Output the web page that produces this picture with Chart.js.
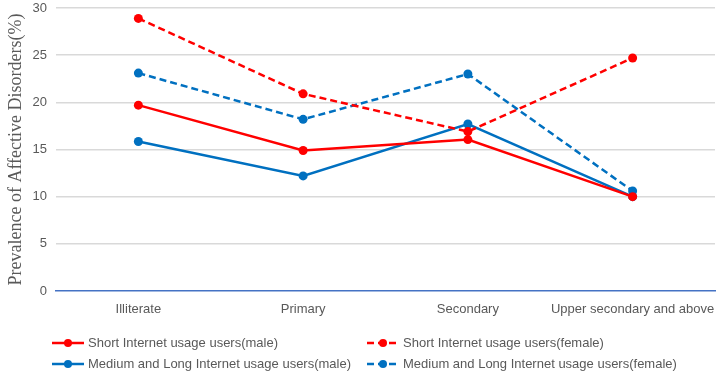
<!DOCTYPE html>
<html>
<head>
<meta charset="utf-8">
<script src="https://cdn.jsdelivr.net/npm/chart.js@4"></script>
<style>
  html, body { margin: 0; padding: 0; background: #fff; }
  #wrap { width: 720px; height: 375px; position: relative; }
</style>
</head>
<body>
<div id="wrap"><canvas id="chart"></canvas></div>
<script>
// data
const categories = ["Illiterate", "Primary", "Secondary", "Upper secondary and above"];
const shortMale = [19.7, 14.9, 16.05, 10.0];
const shortFemale = [28.9, 20.9, 16.9, 24.7];
const longMale = [15.85, 12.2, 17.7, 10.0];
const longFemale = [23.1, 18.2, 23.0, 10.6];
const yTicks = [0, 5, 10, 15, 20, 25, 30];

const RED = "#FF0000";
const BLUE = "#0070C0";
const FONT = "'Liberation Sans', Arial, sans-serif";

function series(label, data, color, dashed){
  return {
    label: label,
    data: data,
    borderColor: color,
    backgroundColor: color,
    borderWidth: 2.5,
    borderDash: dashed ? [7, 4] : [],
    pointRadius: 4.5,
    pointHoverRadius: 4.5,
    pointBorderWidth: 0,
    tension: 0
  };
}

// legend drawn by hand: two columns, two rows, line + dot marker
const legendPlugin = {
  id: "legend2x2",
  afterDraw(chart){
    const ctx = chart.ctx;
    const cols = [52, 367];
    const rows = [343, 364];
    chart.data.datasets.forEach((ds, i) => {
      const x = cols[i % 2], y = rows[Math.floor(i / 2)];
      ctx.save();
      ctx.strokeStyle = ds.borderColor;
      ctx.lineWidth = 2.5;
      ctx.setLineDash(ds.borderDash);
      ctx.beginPath();
      ctx.moveTo(x, y);
      ctx.lineTo(x + 32, y);
      ctx.stroke();
      ctx.setLineDash([]);
      ctx.fillStyle = ds.borderColor;
      ctx.beginPath();
      ctx.arc(x + 16, y, 4, 0, Math.PI * 2);
      ctx.fill();
      ctx.fillStyle = "#595959";
      ctx.font = "13px " + FONT;
      ctx.textBaseline = "middle";
      ctx.fillText(ds.label, x + 36, y);
      ctx.restore();
    });
  }
};

new Chart(document.getElementById("chart"), {
  type: "line",
  data: {
    labels: categories,
    datasets: [
      series("Short Internet usage users(male)", shortMale, RED, false),
      series("Short Internet usage users(female)", shortFemale, RED, true),
      series("Medium and Long Internet usage users(male)", longMale, BLUE, false),
      series("Medium and Long Internet usage users(female)", longFemale, BLUE, true)
    ]
  },
  options: {
    responsive: true,
    maintainAspectRatio: false,
    animation: false,
    layout: { padding: { left: 0, right: 5, top: 8, bottom: 54 } },
    plugins: {
      legend: { display: false },
      tooltip: { enabled: false }
    },
    scales: {
      x: {
        offset: true,
        grid: { display: false, drawTicks: false },
        border: { display: true, color: "#4472C4", width: 1.5 },
        ticks: { color: "#595959", font: { family: FONT, size: 13 }, padding: 11, maxRotation: 0, autoSkip: false },
        afterFit(s){ s.height = 30; s.paddingLeft = 0; s.paddingRight = 0; }
      },
      y: {
        min: 0,
        max: 30,
        afterBuildTicks(s){ s.ticks = yTicks.map(v => ({ value: v })); },
        grid: {
          drawTicks: false,
          color: ctx => ctx.tick && ctx.tick.value === 0 ? "rgba(0,0,0,0)" : "#D9D9D9",
          lineWidth: 1.5
        },
        border: { display: false },
        ticks: { color: "#595959", font: { family: FONT, size: 13 }, padding: 9 },
        title: {
          display: true,
          text: "Prevalence of Affective Disorders(%)",
          color: "#595959",
          font: { family: "'Liberation Serif', 'Times New Roman', serif", size: 18 },
          padding: { top: 5, bottom: 0 }
        },
        afterFit(s){ s.width = 56; s.paddingTop = 0; s.paddingBottom = 0; }
      }
    }
  },
  plugins: [legendPlugin]
});
</script>
</body>
</html>
